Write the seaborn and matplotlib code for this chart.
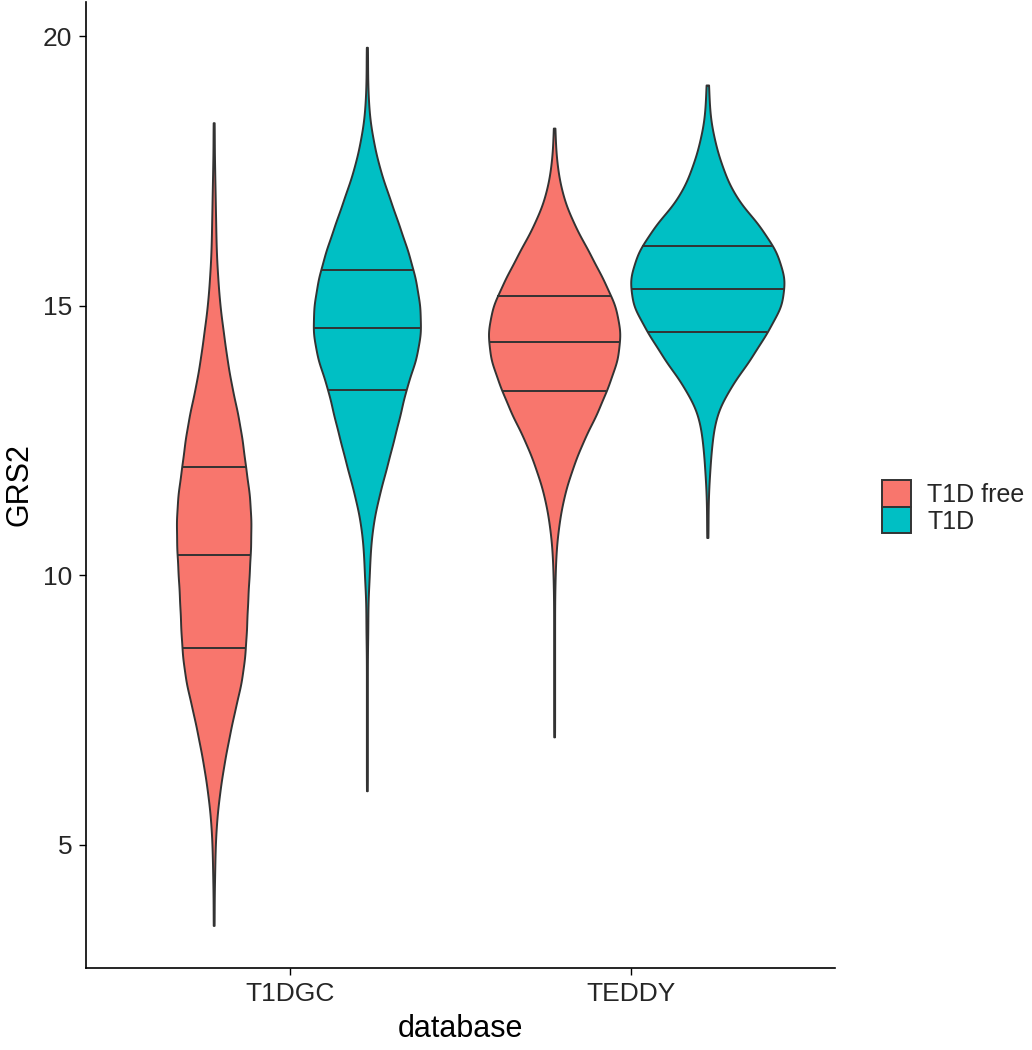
import numpy as np
import pandas as pd
import matplotlib
matplotlib.use("Agg")
import matplotlib.pyplot as plt
from matplotlib.patches import Patch
import seaborn as sns

# ---------------- data ----------------
databases = ["T1DGC", "TEDDY"]
statuses = ["T1D free", "T1D"]
status_colors = ["#F8766D", "#00BFC4"]

# GRS2 bin values and number of subjects per bin
t1dgc_free_grs2 = [3.5, 4.0, 4.5, 5.0, 5.5, 6.0, 6.5, 7.0, 7.5, 8.0, 8.5, 9.0, 9.5,
                   10.0, 10.5, 11.0, 11.5, 12.0, 12.5, 13.0, 13.5, 14.0, 14.5, 15.0,
                   15.5, 16.0, 16.5, 17.0, 17.5, 18.0, 18.4]
t1dgc_free_n = [1, 1, 2, 3, 6, 12, 20, 30, 41, 54, 61, 64, 66,
                69, 72, 73, 70, 62, 56, 47, 35, 26, 19, 12,
                8, 5, 4, 3, 2, 1, 1]

t1dgc_t1d_grs2 = [6.0, 6.5, 7.0, 7.5, 8.0, 8.5, 9.0, 9.5, 10.0, 10.5, 11.0, 11.5,
                  12.0, 12.5, 13.0, 13.5, 14.0, 14.5, 15.0, 15.5, 16.0, 16.5, 17.0,
                  17.5, 18.0, 18.5, 19.0, 19.5, 19.8]
t1dgc_t1d_n = [1, 1, 1, 1, 1, 1, 2, 2, 5, 7, 13, 25,
               40, 54, 68, 80, 100, 110, 108, 99, 84, 65, 46,
               27, 14, 5, 2, 1, 1]

teddy_free_grs2 = [7.0, 7.5, 8.0, 8.5, 9.0, 9.5, 10.0, 10.5, 11.0, 11.5, 12.0, 12.5,
                   13.0, 13.5, 14.0, 14.5, 15.0, 15.5, 16.0, 16.5, 17.0, 17.5, 18.0,
                   18.3]
teddy_free_n = [1, 1, 1, 1, 1, 1, 2, 4, 10, 20, 37, 58,
                86, 108, 128, 134, 124, 98, 70, 40, 18, 7, 2,
                1]

teddy_t1d_grs2 = [10.7, 11.0, 11.5, 12.0, 12.5, 13.0, 13.5, 14.0, 14.5, 15.0, 15.5,
                  16.0, 16.5, 17.0, 17.5, 18.0, 18.5, 19.0, 19.1]
teddy_t1d_n = [1, 1, 2, 5, 9, 17, 44, 82, 114, 144, 150,
               134, 100, 54, 31, 15, 5, 2, 1]

# quartiles (Q1, median, Q3) shown as lines in the reference
t1dgc_free_quart = [8.65, 10.38, 12.00]
t1dgc_t1d_quart = [13.43, 14.59, 15.66]
teddy_free_quart = [13.42, 14.32, 15.18]
teddy_t1d_quart = [14.52, 15.32, 16.12]

groups = [
    ("T1DGC", "T1D free", t1dgc_free_grs2, t1dgc_free_n, t1dgc_free_quart),
    ("T1DGC", "T1D", t1dgc_t1d_grs2, t1dgc_t1d_n, t1dgc_t1d_quart),
    ("TEDDY", "T1D free", teddy_free_grs2, teddy_free_n, teddy_free_quart),
    ("TEDDY", "T1D", teddy_t1d_grs2, teddy_t1d_n, teddy_t1d_quart),
]

frames = []
for db, st, vals, counts, _ in groups:
    obs = np.repeat(np.asarray(vals, float), np.asarray(counts, int))
    frames.append(pd.DataFrame({"database": db, "status": st, "GRS2": obs}))
df = pd.concat(frames, ignore_index=True)

# ---------------- style ----------------
sns.set_style("ticks")
plt.rcParams["font.family"] = ["Liberation Sans", "DejaVu Sans"]
EDGE = "#333333"
TXT = "#262626"
LW = 1.4

fig = plt.figure(figsize=(10.32, 10.5), dpi=100)
ax = fig.add_axes([86 / 1032, 82 / 1050, 749 / 1032, 966 / 1050])


def fixed_bw(kde):
    return 0.30 / np.std(kde.dataset, ddof=1)


sns.violinplot(
    data=df, x="database", y="GRS2", hue="status",
    order=databases, hue_order=statuses,
    palette=dict(zip(statuses, status_colors)), saturation=1,
    width=0.9, dodge=True, cut=0, gridsize=400, bw_method=fixed_bw,
    density_norm="area", common_norm=True, inner=None,
    linewidth=LW, linecolor=EDGE, legend=False, ax=ax,
)

# quartile lines spanning the violin body
centers = {}
for i, db in enumerate(databases):
    for j, st in enumerate(statuses):
        centers[(db, st)] = i + (j - 0.5) * 0.45

polys = []
for coll in ax.collections:
    for path in coll.get_paths():
        v = path.vertices
        cx = (v[:, 0].max() + v[:, 0].min()) / 2
        polys.append((cx, v))

for db, st, _, _, quart in groups:
    c = centers[(db, st)]
    cx, v = min(polys, key=lambda p: abs(p[0] - c))
    right = v[v[:, 0] > cx + 1e-9]
    order = np.argsort(right[:, 1])
    ry, rx = right[order, 1], right[order, 0]
    for q in quart:
        half = np.interp(q, ry, rx) - cx
        ax.plot([cx - half, cx + half], [q, q], color=EDGE, lw=LW,
                solid_capstyle="butt", zorder=5)

# ---------------- axes ----------------
ax.set_xlim(-0.6, 1.6)
ax.set_ylim(2.71, 20.64)
ax.set_yticks([5, 10, 15, 20])
ax.set_yticklabels(["5", "10", "15", "20"])
sns.despine(ax=ax)
for s in ["left", "bottom"]:
    ax.spines[s].set_color("black")
    ax.spines[s].set_linewidth(1.2)
ax.tick_params(axis="both", colors="black", labelcolor=TXT, labelsize=19,
               length=5, width=1.0)
ax.tick_params(axis="y", pad=5)
ax.tick_params(axis="x", pad=5)
ax.set_xlabel("database", fontsize=22, color="black", labelpad=6)
ax.set_ylabel("GRS2", fontsize=22, color="black", labelpad=6)
ax.grid(False)

handles = [Patch(facecolor=c, edgecolor=EDGE, linewidth=LW) for c in status_colors]
fig.legend(handles, statuses, loc="center left",
           bbox_to_anchor=(882 / 1032, 1 - 507 / 1050),
           bbox_transform=fig.transFigure, frameon=False, fontsize=18,
           handlelength=1.16, handleheight=1.25, handletextpad=0.65,
           labelspacing=0.0, borderpad=0, borderaxespad=0)

fig.savefig("out.png", dpi=100)
